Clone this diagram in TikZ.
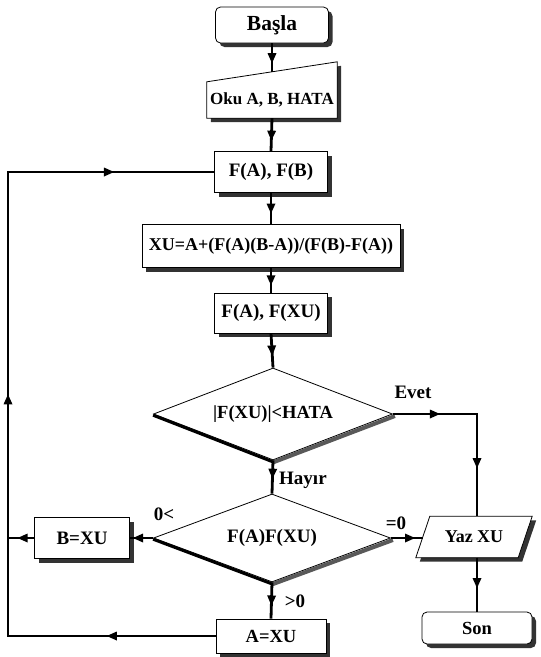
\documentclass[tikz,border=0pt]{standalone}
\usepackage{fontspec}
\setmainfont{Liberation Serif}
\usetikzlibrary{shapes.geometric,shadows,decorations.markings,calc,backgrounds}
\newcommand{\fsz}[1]{\fontsize{#1}{#1}\selectfont\bfseries}
\tikzset{
 lbl/.style={font=\fsz{19}, inner sep=0pt},
 shd/.style={drop shadow={shadow xshift=4pt, shadow yshift=-4pt, fill=black!80, opacity=1}},
 proc/.style={lbl, draw, line width=0.8pt, fill=white, shd, rectangle},
 term/.style={proc, rounded corners=5pt},
 txt/.style={lbl, rectangle},
 dec/.style={lbl, draw, line width=0.8pt, fill=white, diamond, aspect=2.6},
 conn/.style={line width=2.8pt},
 midtip/.style={postaction={decorate, decoration={markings, mark=at position #1 with {\fill (5pt,0pt) -- (-5pt,4.5pt) -- (-5pt,-4.5pt) -- cycle;}}}},
}
\begin{document}
\begin{tikzpicture}[x=1pt,y=-1pt]
\useasboundingbox (0,0) rectangle (541,657);
% nodes
\node[term, minimum width=113pt, minimum height=36pt, font=\fsz{21.5}] (start) at (272,25) {Başla};
\node[txt, minimum width=130pt, minimum height=36pt, font=\fsz{17}] (oku) at (272,100) {Oku A, B, HATA};
\node[proc, minimum width=113pt, minimum height=41pt] (fab) at (271,172) {F(A), F(B)};
\node[proc, minimum width=258pt, minimum height=43pt, font=\fsz{18}] (xu) at (271,246) {XU=A+(F(A)(B-A))/(F(B)-F(A))};
\node[proc, minimum width=113pt, minimum height=40pt] (faxu) at (271,313) {F(A), F(XU)};
\node[dec, minimum width=239pt, minimum height=92pt, font=\fsz{18.5}] (d1) at (273,414) {|F(XU)|<HATA};
\node[dec, minimum width=237pt, minimum height=88pt] (d2) at (272,538) {F(A)F(XU)};
\node[proc, minimum width=95pt, minimum height=41pt] (bxu) at (82,538) {B=XU};
\node[proc, minimum width=110pt, minimum height=34pt, font=\fsz{18.5}] (axu) at (271,636) {A=XU};
\node[txt, minimum width=102pt, minimum height=41pt, font=\fsz{18}] (yaz) at (474,537) {Yaz XU};
\node[term, minimum width=110pt, minimum height=32pt, font=\fsz{18.5}] (son) at (477,628) {Son};
\begin{scope}[on background layer]
\path[draw, line width=0.8pt, fill=white, shd] (oku.south west) -- (oku.south east) -- ([yshift=20pt]oku.north east) -- (oku.north west) -- cycle;
\path[draw, line width=0.8pt, fill=white, shd] ([xshift=-7pt]yaz.south west) -- ([xshift=-7pt]yaz.south east) -- ([xshift=7pt]yaz.north east) -- ([xshift=7pt]yaz.north west) -- cycle;
\end{scope}
% diamond edge shading
\draw[line width=3pt] ([yshift=-1.2pt]d1.west) -- ([yshift=-1.5pt]d1.south);
\draw[line width=4pt, black!65] ([yshift=-2pt]d1.south) -- ([xshift=2pt,yshift=-2pt]d1.east);
\draw[line width=3pt] ([yshift=-1.2pt]d2.west) -- ([yshift=-1.5pt]d2.south);
\draw[line width=4pt, black!65] ([yshift=-2pt]d2.south) -- ([xshift=2pt,yshift=-2pt]d2.east);
% labels
\node[lbl] (evet) at (413,392) {Evet};
\node[lbl, anchor=west] (hayir) at (279,480) {Hayır};
\node[lbl] (lt) at (164,514) {0<};
\node[lbl] (eq) at (396,523) {=0};
\node[lbl] (gt) at (295,601) {>0};
% connectors
\coordinate (lx) at (8,0);
\coordinate (evc) at (477,414);
\draw[conn, midtip=0.52] (start.south) -- ([yshift=10pt]oku.north);
\draw[conn, midtip=0.53] (oku.south) -- (fab.north);
\draw[conn, midtip=0.5] (fab.south) -- (xu.north);
\draw[conn, midtip=0.5] (xu.south) -- (faxu.north);
\draw[conn, midtip=0.5] (faxu.south) -- (d1.north);
\draw[conn, midtip=0.4] (d1.south) -- (d2.north);
\draw[conn, midtip=0.5] (d2.south) -- (axu.north);
\draw[conn, midtip=0.65] (d2.west) -- (bxu.east);
\draw[conn, midtip=0.44] (bxu.west) -- (bxu.west -| lx);
\draw[conn, midtip=0.6] (d2.east) -- (yaz.west |- d2.east);
\draw[conn] (d1.east) -- (evc) -- (yaz.north -| evc);
\path[midtip=0.5] (d1.east) -- (evc);
\path[midtip=0.48] (evc) -- (yaz.north -| evc);
\draw[conn, midtip=0.47] (son.north |- yaz.south) -- (son.north);
\draw[conn] (axu.west) -- (axu.west -| lx) -- (fab.west -| lx) -- (fab.west);
\path[midtip=0.5] (axu.west) -- (axu.west -| lx);
\path[midtip=0.51] (axu.west -| lx) -- (fab.west -| lx);
\path[midtip=0.49] (fab.west -| lx) -- (fab.west);
\end{tikzpicture}
\end{document}
